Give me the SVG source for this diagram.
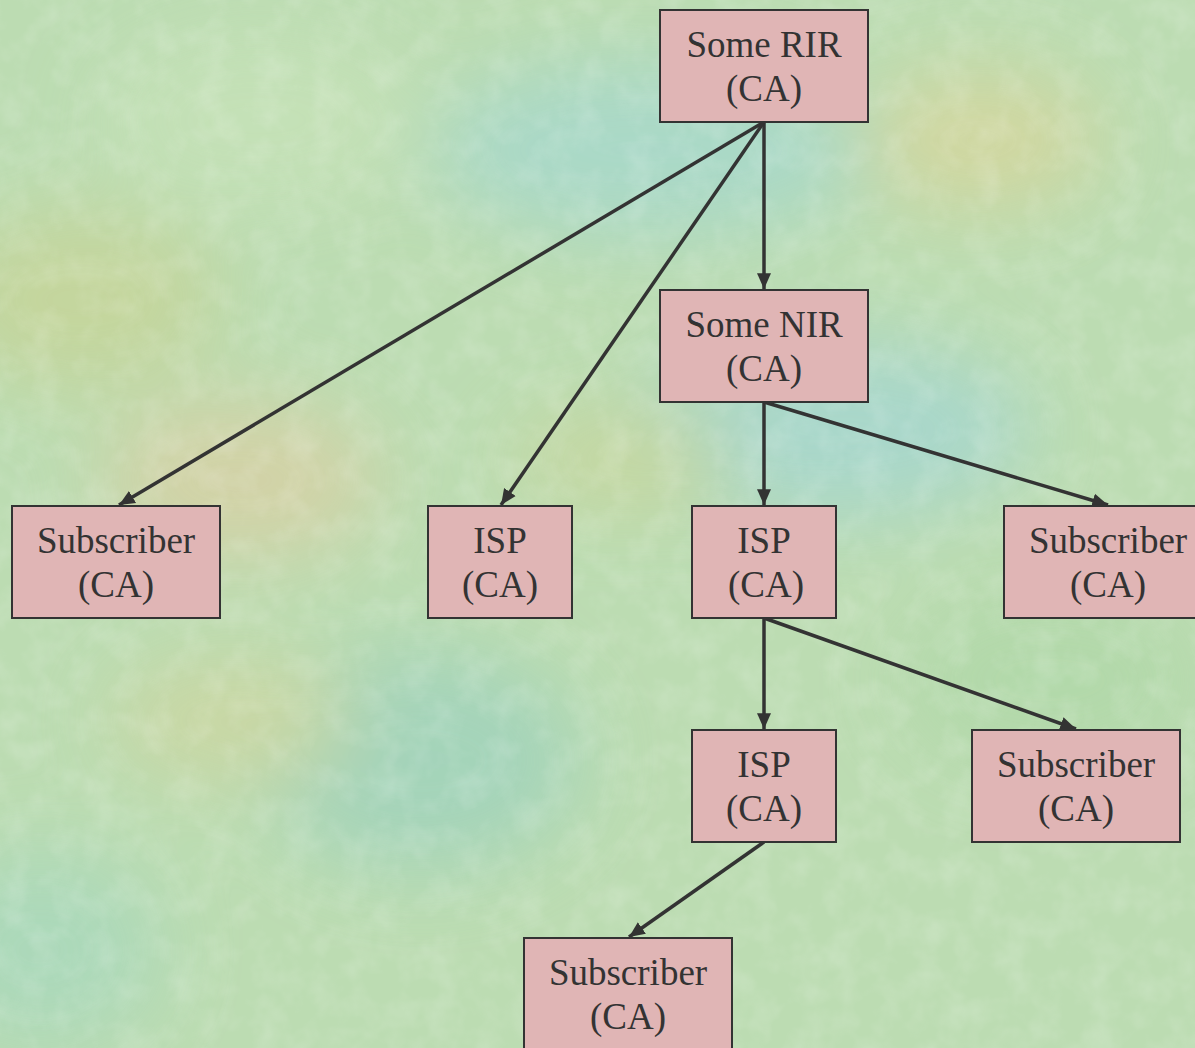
<svg xmlns="http://www.w3.org/2000/svg" width="1195" height="1048" viewBox="0 0 1195 1048">
<style>
.box{fill:#e0b5b5;stroke:#333;stroke-width:2}
.t{font-size:37px;fill:#333;text-anchor:middle}
.c{stroke:#333;stroke-width:3.5;fill:none;marker-end:url(#ah)}
</style>
<defs>
<marker id="ah" markerWidth="6" markerHeight="6" refX="4.5" refY="3" orient="auto" markerUnits="strokeWidth"><path d="M0,1 L4.5,3 L0,5 Z" fill="#333"/></marker>
<filter id="blur" x="-50%" y="-50%" width="200%" height="200%"><feGaussianBlur stdDeviation="40"/></filter>
<filter id="tex" x="0" y="0" width="100%" height="100%">
<feTurbulence type="fractalNoise" baseFrequency="0.035" numOctaves="3" seed="4" result="n"/>
<feColorMatrix type="matrix" values="0 0 0 0 1  0 0 0 0 1  0 0 0 0 1  0 0 0 0.9 -0.35" in="n"/>
</filter>
</defs>
<g id="background">
<rect width="1195" height="1048" fill="#bcdcb2"/>
<g filter="url(#blur)" opacity="0.8">
<ellipse cx="650" cy="150" rx="220" ry="90" fill="#a6d8cc"/>
<ellipse cx="980" cy="140" rx="120" ry="70" fill="#d6d69c"/>
<ellipse cx="80" cy="300" rx="140" ry="90" fill="#c6d498"/>
<ellipse cx="240" cy="480" rx="140" ry="80" fill="#d8d0a4"/>
<ellipse cx="420" cy="760" rx="160" ry="110" fill="#9fd2bc"/>
<ellipse cx="830" cy="430" rx="200" ry="90" fill="#a4d6d0"/>
<ellipse cx="1050" cy="680" rx="150" ry="90" fill="#b0d8a8"/>
<ellipse cx="230" cy="720" rx="120" ry="60" fill="#cdd6a0"/>
<ellipse cx="40" cy="950" rx="120" ry="100" fill="#a8d8bc"/>
<ellipse cx="620" cy="460" rx="110" ry="50" fill="#c8d69c"/>
<ellipse cx="260" cy="120" rx="160" ry="90" fill="#c6e2b8"/>
</g>
<rect width="1195" height="1048" filter="url(#tex)" opacity="0.35"/>
</g>
<g id="connectors">
<line class="c" x1="764" y1="122" x2="764" y2="289"/>
<line class="c" x1="764" y1="122" x2="119" y2="505"/>
<line class="c" x1="764" y1="122" x2="501" y2="505"/>
<line class="c" x1="764" y1="402" x2="764" y2="505"/>
<line class="c" x1="764" y1="402" x2="1108" y2="505"/>
<line class="c" x1="764" y1="618" x2="764" y2="729"/>
<line class="c" x1="764" y1="618" x2="1076" y2="729"/>
<line class="c" x1="764" y1="842" x2="629" y2="937"/>
</g>
<g id="nodes" font-family="Liberation Serif, Times New Roman, serif">
<g id="rir"><rect class="box" x="660" y="10" width="208" height="112"/><text class="t" x="764" y="57">Some RIR</text><text class="t" x="764" y="101">(CA)</text></g>
<g id="nir"><rect class="box" x="660" y="290" width="208" height="112"/><text class="t" x="764" y="337">Some NIR</text><text class="t" x="764" y="381">(CA)</text></g>
<g id="sub1"><rect class="box" x="12" y="506" width="208" height="112"/><text class="t" x="116" y="553">Subscriber</text><text class="t" x="116" y="597">(CA)</text></g>
<g id="isp1"><rect class="box" x="428" y="506" width="144" height="112"/><text class="t" x="500" y="553">ISP</text><text class="t" x="500" y="597">(CA)</text></g>
<g id="isp2"><rect class="box" x="692" y="506" width="144" height="112"/><text class="t" x="764" y="553">ISP</text><text class="t" x="766" y="597">(CA)</text></g>
<g id="sub2"><rect class="box" x="1004" y="506" width="208" height="112"/><text class="t" x="1108" y="553">Subscriber</text><text class="t" x="1108" y="597">(CA)</text></g>
<g id="isp3"><rect class="box" x="692" y="730" width="144" height="112"/><text class="t" x="764" y="777">ISP</text><text class="t" x="764" y="821">(CA)</text></g>
<g id="sub3"><rect class="box" x="972" y="730" width="208" height="112"/><text class="t" x="1076" y="777">Subscriber</text><text class="t" x="1076" y="821">(CA)</text></g>
<g id="sub4"><rect class="box" x="524" y="938" width="208" height="112"/><text class="t" x="628" y="985">Subscriber</text><text class="t" x="628" y="1029">(CA)</text></g>
</g>
</svg>
